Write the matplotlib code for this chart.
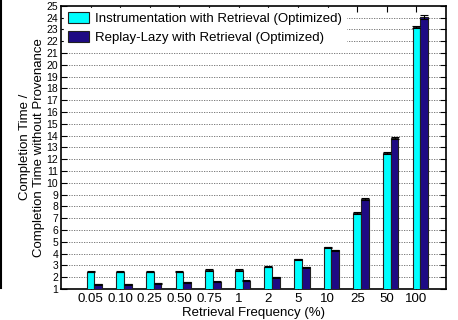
import matplotlib
matplotlib.use("Agg")
import matplotlib.pyplot as plt
import numpy as np
from matplotlib.lines import Line2D

plt.rcParams['font.family'] = ['Liberation Sans', 'DejaVu Sans']

# 데이터
freq_labels = ["0.05", "0.10", "0.25", "0.50", "0.75", "1", "2", "5", "10", "25", "50", "100"]
instr_vals = [2.47, 2.45, 2.45, 2.45, 2.6, 2.6, 2.88, 3.52, 4.53, 7.47, 12.5, 23.2]
instr_err = [0.05, 0.05, 0.05, 0.05, 0.05, 0.05, 0.05, 0.05, 0.06, 0.08, 0.1, 0.12]
lazy_vals = [1.4, 1.38, 1.47, 1.56, 1.62, 1.68, 1.99, 2.84, 4.28, 8.63, 13.77, 24.05]
lazy_err = [0.04, 0.04, 0.04, 0.04, 0.04, 0.04, 0.05, 0.05, 0.06, 0.08, 0.1, 0.2]

CYAN = "#00FFFF"
NAVY = "#1E0A84"

fig = plt.figure(figsize=(4.58, 3.2), dpi=100)
ax = fig.add_axes([0.133, 0.097, 0.841, 0.885])

x = np.arange(len(freq_labels))
w = 0.26
ax.bar(x, instr_vals, w, color=CYAN, edgecolor="#202020", linewidth=0.8,
       label="Instrumentation with Retrieval (Optimized)", zorder=3)
ax.bar(x + w, lazy_vals, w, color=NAVY, edgecolor="#202020", linewidth=0.8,
       label="Replay-Lazy with Retrieval (Optimized)", zorder=3)
ax.errorbar(x, instr_vals, yerr=instr_err, fmt="none", ecolor="black",
            elinewidth=0.8, capsize=3, capthick=0.8, zorder=4)
ax.errorbar(x + w, lazy_vals, yerr=lazy_err, fmt="none", ecolor="black",
            elinewidth=0.8, capsize=3, capthick=0.8, zorder=4)

ax.set_xlim(-1, 12)
ax.set_ylim(1, 25)
ax.set_xticks(x)
ax.set_xticklabels(freq_labels, fontsize=9.5)
ax.set_yticks(range(1, 26))
ax.tick_params(axis="y", labelsize=7.5, direction="in", right=True, length=4, pad=2)
ax.tick_params(axis="x", direction="in", top=True, length=4, pad=3)
for s in ax.spines.values():
    s.set_linewidth(1.2)

for yv in range(2, 25):
    ax.axhline(yv, color="#666666", linestyle=(0, (1.5, 1.5)), linewidth=0.6, zorder=1)

ax.set_xlabel("Retrieval Frequency (%)", fontsize=9.5, labelpad=1)
ax.set_ylabel("Completion Time /\nCompletion Time without Provenance", fontsize=9.5, labelpad=1)

leg = ax.legend(loc="upper left", fontsize=9.5, frameon=True, fancybox=False,
                handlelength=1.6, handleheight=0.9, handletextpad=0.5,
                borderaxespad=0.2, labelspacing=0.4, borderpad=0.3)
leg.get_frame().set_edgecolor("white")
leg.get_frame().set_alpha(1.0)
leg.set_zorder(5)

# 왼쪽 가장자리 세로선
fig.add_artist(Line2D([0.003, 0.003], [0.1, 1.0], color="black", linewidth=1.5,
                      transform=fig.transFigure))

fig.savefig("out.png", dpi=100)
